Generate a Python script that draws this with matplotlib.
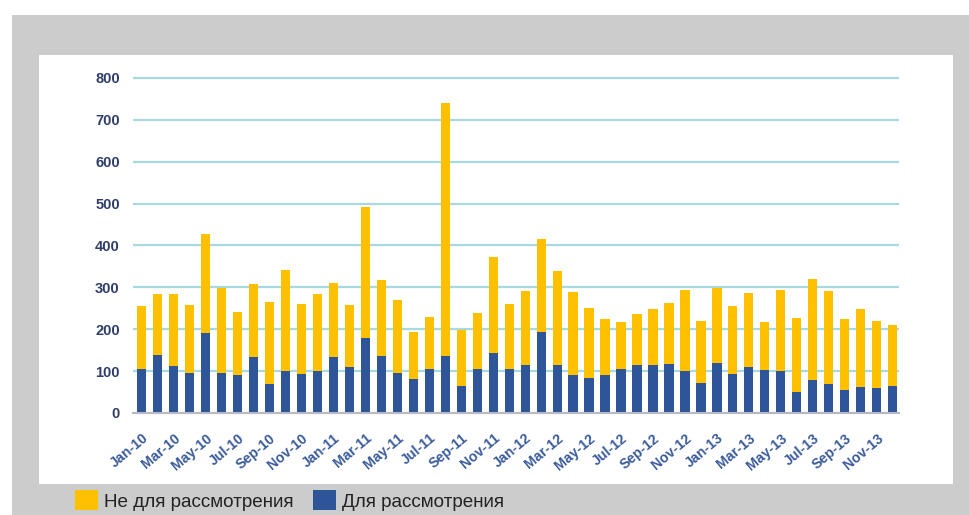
import matplotlib.pyplot as plt
from matplotlib.patches import Rectangle

# Monthly counts, Jan-2010 .. Dec-2013
months = []
for yr in ['10', '11', '12', '13']:
    for m in ['Jan', 'Feb', 'Mar', 'Apr', 'May', 'Jun', 'Jul', 'Aug', 'Sep', 'Oct', 'Nov', 'Dec']:
        months.append(m + '-' + yr)

considered = [104, 138, 113, 96, 190, 96, 91, 133, 70, 100, 92, 100,
              133, 109, 179, 137, 96, 80, 104, 137, 65, 104, 144, 104,
              115, 194, 114, 91, 84, 90, 104, 115, 114, 117, 100, 72,
              120, 93, 110, 103, 100, 49, 78, 70, 54, 61, 59, 65]
totals = [256, 284, 284, 258, 428, 299, 240, 309, 266, 342, 260, 283,
          311, 259, 491, 318, 271, 193, 229, 741, 198, 239, 373, 260,
          291, 416, 338, 290, 251, 225, 217, 237, 248, 263, 293, 220,
          299, 256, 287, 217, 293, 226, 321, 291, 224, 249, 219, 209]
not_considered = [t - c for t, c in zip(totals, considered)]

W, H = 969, 515
fig = plt.figure(figsize=(W / 100, H / 100), dpi=100)
fig.patch.set_facecolor('white')

# grey card and white plot panel
fig.patches.append(Rectangle((12 / W, 0), 1 - 12 / W, 1 - 15 / H, transform=fig.transFigure,
                             facecolor='#cccccc', edgecolor='none', zorder=-2))
fig.patches.append(Rectangle((39 / W, 1 - 484 / H), (953 - 39) / W, (484 - 55) / H,
                             transform=fig.transFigure, facecolor='white', edgecolor='none', zorder=-1))

ax = fig.add_axes([133 / W, 102 / H, (899 - 133) / W, (413 - 73.8) / H])
ax.set_facecolor('none')

x = range(len(months))
b1 = ax.bar(x, considered, width=0.58, color='#2d5597', label='Для рассмотрения', zorder=3)
b2 = ax.bar(x, not_considered, width=0.58, bottom=considered, color='#ffc000',
            label='Не для рассмотрения', zorder=3)

ax.set_xlim(-0.55, 47.4)
ax.set_ylim(0, 810)
ax.set_yticks(range(0, 801, 100))
ax.yaxis.grid(True, color='#a6d9e0', linewidth=1.6, zorder=0)
for s in ['top', 'right', 'left']:
    ax.spines[s].set_visible(False)
ax.spines['bottom'].set_color('#b8b8c4')
ax.spines['bottom'].set_linewidth(1.5)
ax.spines['bottom'].set_zorder(4)

ax.tick_params(axis='y', length=0, pad=9.5)
for lab in ax.get_yticklabels():
    lab.set_fontfamily('Liberation Sans')
    lab.set_fontweight('bold')
    lab.set_fontsize(10.5)
    lab.set_color('#2f3d6b')

ax.set_xticks(list(x)[::2])
ax.set_xticklabels(months[::2], rotation=40, ha='right', va='top', rotation_mode='anchor',
                   fontfamily='Liberation Sans', fontweight='bold', fontsize=10.2, color='#3b5b9c')
ax.tick_params(axis='x', length=0, pad=13)

fig.legend(handles=[b2, b1], loc='center left', bbox_to_anchor=(75 / W, 1 - 500.5 / H),
           ncol=2, frameon=False, borderpad=0, borderaxespad=0,
           handlelength=1.22, handleheight=1.22, handletextpad=0.33, columnspacing=1.0,
           prop={'family': 'Liberation Sans', 'size': 13.6}, labelcolor='#222222')

fig.savefig('out.png', dpi=100)
